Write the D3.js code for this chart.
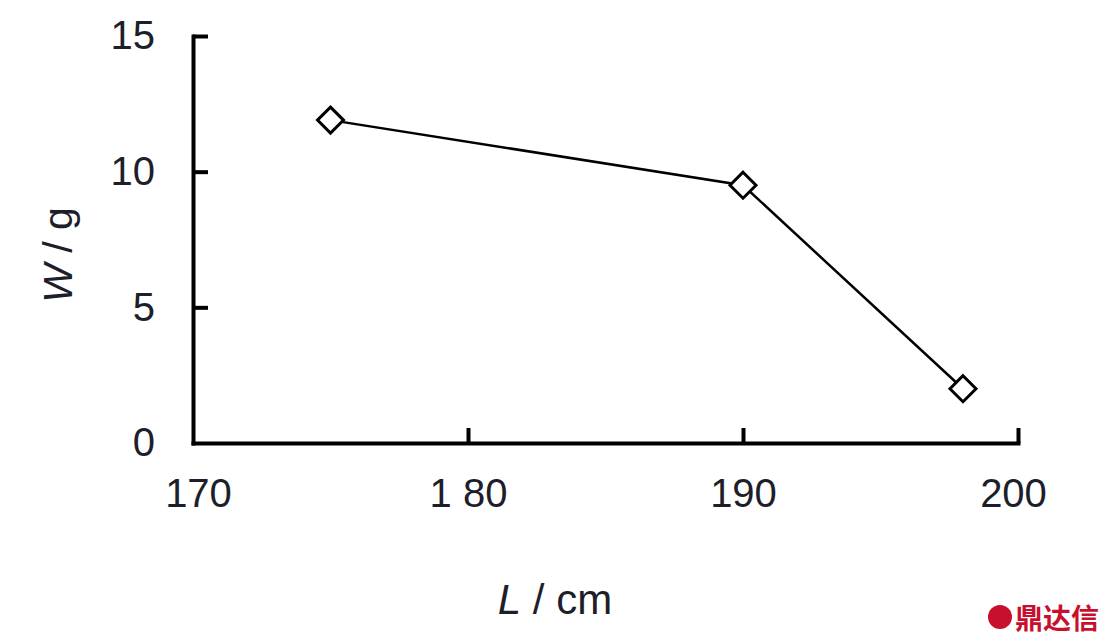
<!DOCTYPE html>
<html><head><meta charset="utf-8">
<script src="https://cdn.jsdelivr.net/npm/d3@7"></script>
<style>body{margin:0;background:#fff}svg{display:block}</style>
</head><body>
<svg id="c" width="1100" height="643"></svg>
<script>
const lengths = [175, 190, 198];
const weights = [11.9, 9.5, 2.0];
const xTicks = [170, 180, 190, 200];
const xTickLabels = ["170", "1 80", "190", "200"];
const yTicks = [0, 5, 10, 15];

const svg = d3.select("#c");
const x = d3.scaleLinear().domain([170, 200]).range([193, 1018]);
const y = d3.scaleLinear().domain([0, 15]).range([443, 36]);
const txt = "#1e1e2a";
const font = "Liberation Sans, Arial, sans-serif";

// axes
const xa = svg.append("g").attr("transform", `translate(0,${y(0)})`)
  .call(d3.axisBottom(x).tickValues(xTicks).tickSizeInner(-15).tickSizeOuter(0)
    .tickFormat((d, i) => xTickLabels[i]));
const ya = svg.append("g").attr("transform", `translate(${x(170)},0)`)
  .call(d3.axisLeft(y).tickValues(yTicks).tickSizeInner(-15).tickSizeOuter(0).tickPadding(38));
[xa, ya].forEach(a => {
  a.select(".domain").attr("stroke", "#000").attr("stroke-width", 4).attr("stroke-linecap", "square");
  a.selectAll(".tick line").attr("stroke", "#000").attr("stroke-width", 4);
  a.selectAll("text").attr("fill", txt).attr("font-family", font).attr("font-size", 40)
    .attr("transform", "scale(1,1)");
});
ya.selectAll(".tick").filter(d => d === 0).select("line").remove();
xa.selectAll(".tick").filter(d => d === 170).select("line").remove();
xa.selectAll(".tick text").attr("dy", "0.71em").attr("y", 36);
xa.selectAll(".tick").filter(d => d === 170).select("text").attr("x", 5);
xa.selectAll(".tick").filter(d => d === 200).select("text").attr("x", -5);

// line
const pts = lengths.map((l, i) => [l, weights[i]]);
svg.append("path").datum(pts)
  .attr("d", d3.line().x(d => x(d[0])).y(d => y(d[1])))
  .attr("fill", "none").attr("stroke", "#000").attr("stroke-width", 2.5);
svg.selectAll(".m").data(pts).enter().append("path")
  .attr("transform", d => `translate(${x(d[0])},${y(d[1])})`)
  .attr("d", "M0,-13L13,0L0,13L-13,0Z")
  .attr("fill", "#fff").attr("stroke", "#000").attr("stroke-width", 3);

// axis titles
const xt = svg.append("text").attr("x", 555).attr("y", 614).attr("text-anchor", "middle")
  .attr("font-family", font).attr("font-size", 42).attr("fill", txt);
xt.append("tspan").attr("font-style", "italic").text("L");
xt.append("tspan").text(" / cm");

const yt = svg.append("text").attr("transform", "translate(72,255) rotate(-90)").attr("text-anchor", "middle")
  .attr("font-family", font).attr("font-size", 41).attr("fill", txt);
yt.append("tspan").attr("font-style", "italic").text("W");
yt.append("tspan").text(" / g");

// watermark
svg.append("circle").attr("cx", 1000).attr("cy", 617).attr("r", 12).attr("fill", "#c8102e");
svg.append("text").attr("x", 1015).attr("y", 629).attr("font-family", "Noto Sans CJK SC")
  .attr("font-weight", "bold").attr("font-size", 28).attr("fill", "#c8102e").text("鼎达信");
</script>
</body></html>
